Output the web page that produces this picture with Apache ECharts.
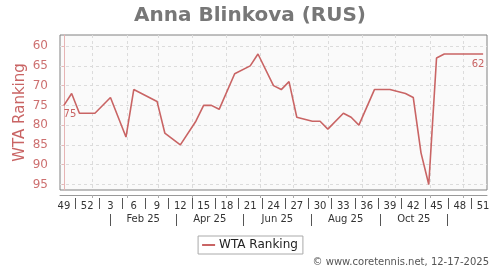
<!DOCTYPE html>
<html><head><meta charset="utf-8">
<script src="https://cdn.jsdelivr.net/npm/echarts@6/dist/echarts.min.js"></script>
<style>html,body{margin:0;padding:0;background:#fff}#c{width:500px;height:270px}</style>
</head><body><div id="c"></div>
<script>
// ---- data ----
const weekLabels = ['49','50','51','52','1','2','3','4','5','6','7','8','9','10','11','12','13','14','15','16','17','18','19','20','21','22','23','24','25','26','27','28','29','30','31','32','33','34','35','36','37','38','39','40','41','42','43','44','45','46','47','48','49','50','51'];
const ranking = [75,72,77,null,77,null,73,null,83,71,
                 null,null,74,82,null,85,null,79,75,75,
                 76,null,67,null,65,62,null,70,71,69,
                 78,null,79,79,81,null,77,78,80,null,
                 71,null,71,null,72,73,87,95,63,62,
                 62,62,62,62,62];
const yTickValues = [60,65,70,75,80,85,90,95];
const monthGridDates = ['2025-01-01','2025-02-01','2025-03-01','2025-04-01','2025-05-01','2025-06-01','2025-07-01','2025-08-01','2025-09-01','2025-10-01','2025-11-01','2025-12-01'];
const monthBandDates = ['2025-01-17','2025-03-17','2025-05-17','2025-07-17','2025-09-17','2025-11-17'];
const monthBandLabels = ['Feb 25','Apr 25','Jun 25','Aug 25','Oct 25'];
const seriesName = 'WTA Ranking';
const titleText = 'Anna Blinkova (RUS)';
const footerText = '\u00a9 www.coretennis.net, 12-17-2025';

// ---- helpers ----
const LABEL_STEP = 3;
const firstWeekDate = Date.UTC(2024, 11, 6);
function weekIndexOf(d){ return (Date.parse(d + 'T00:00:00Z') - firstWeekDate) / (7*86400000); }
const gridIdx = monthGridDates.map(weekIndexOf);
const bandIdx = monthBandDates.map(weekIndexOf);
const bandLabelIdx = monthBandLabels.map((_, i) => (bandIdx[i] + bandIdx[i+1]) / 2);
const weekSepIdx = [];
for (let k = 0; k + LABEL_STEP < weekLabels.length; k += LABEL_STEP) weekSepIdx.push(k + LABEL_STEP / 2);

const RED = '#c96464';
const FONT = 'DejaVu Sans';
const lastIdx = ranking.length - 1;
const points = [];
ranking.forEach((v, i) => {
  if (v === null) return;
  const item = { value: [i, v] };
  if (i === 0) item.label = { show: true, position: 'bottom', offset: [6, -1] };
  if (i === lastIdx) item.label = { show: true, position: 'bottom', offset: [-5, 0] };
  points.push(item);
});

const chart = echarts.init(document.getElementById('c'), null, { renderer: 'canvas' });
chart.setOption({
  animation: false,
  textStyle: { fontFamily: FONT },
  title: { text: titleText, left: 'center', top: 1,
    textStyle: { fontFamily: FONT, fontSize: 20, fontWeight: 'bold', color: '#777' } },
  grid: { left: 60, right: 13, top: 35, bottom: 80, show: true,
    backgroundColor: '#fafafa', borderColor: '#808080', borderWidth: 1 },
  legend: { data: [seriesName], left: 'center', top: 236, icon: 'rect',
    itemWidth: 13, itemHeight: 2, itemGap: 5, padding: [3, 5, 3, 4],
    borderColor: '#aaa', borderWidth: 1, backgroundColor: '#fff',
    textStyle: { fontFamily: FONT, fontSize: 12, color: '#222', padding: [0,0,0,-1] } },
  xAxis: [
    { type: 'value', min: -0.5, max: 54.5, position: 'bottom', offset: 5,
      axisLine: { show: true, lineStyle: { color: '#999' } },
      axisTick: { show: true, customValues: gridIdx, length: 3, lineStyle: { color: '#aaa' } },
      axisLabel: { show: false },
      splitLine: { show: true, lineStyle: { color: '#dcdcdc', type: [3, 3] } } },
    { type: 'category', data: weekLabels, boundaryGap: true, position: 'bottom', offset: 5,
      axisLine: { show: false }, axisTick: { show: false }, splitLine: { show: false },
      axisLabel: { interval: LABEL_STEP - 1, fontSize: 10, color: '#333', margin: 6, fontFamily: FONT } },
    { type: 'value', min: -0.5, max: 54.5, position: 'bottom', offset: 8,
      axisLine: { show: false }, splitLine: { show: false },
      axisTick: { show: true, customValues: weekSepIdx, length: 11, lineStyle: { color: '#555' } },
      axisLabel: { show: false } },
    { type: 'value', min: -0.5, max: 54.5, position: 'bottom', offset: 24,
      axisLine: { show: false }, splitLine: { show: false },
      axisTick: { show: true, customValues: bandIdx, length: 12, lineStyle: { color: '#555' } },
      axisLabel: { show: true, customValues: bandLabelIdx, margin: 0, fontSize: 10, color: '#333', fontFamily: FONT,
        formatter: (v) => { const k = bandLabelIdx.findIndex(x => Math.abs(x - v) < 1e-6); return k >= 0 ? monthBandLabels[k] : ''; } } }
  ],
  yAxis: [{
    type: 'value', inverse: true, min: 57.2, max: 96.4, position: 'left', offset: 5,
    name: 'WTA Ranking', nameLocation: 'middle', nameGap: 27, nameMoveOverlap: false,
    nameTextStyle: { color: RED, fontSize: 15, fontFamily: FONT },
    axisLine: { show: true, lineStyle: { color: '#e6b4b4' } },
    axisTick: { show: true, customValues: yTickValues, length: 2, lineStyle: { color: '#e6b4b4' } },
    axisLabel: { customValues: yTickValues, color: '#cd7070', fontSize: 12, margin: 7, fontFamily: FONT },
    splitLine: { show: true, lineStyle: { color: '#dcdcdc', type: [3, 3] } }
  }],
  series: [{
    name: seriesName, type: 'line', xAxisIndex: 0, yAxisIndex: 0,
    data: points, showSymbol: true, symbol: 'circle', symbolSize: 0.01,
    lineStyle: { color: RED, width: 1.6 }, itemStyle: { color: RED },
    label: { color: RED, fontSize: 10, fontFamily: FONT },
    emphasis: { disabled: true }
  }],
  graphic: [{ type: 'text', right: 11, top: 257,
    style: { text: footerText, fontSize: 10, fill: '#555', fontFamily: FONT } }]
});
</script></body></html>
